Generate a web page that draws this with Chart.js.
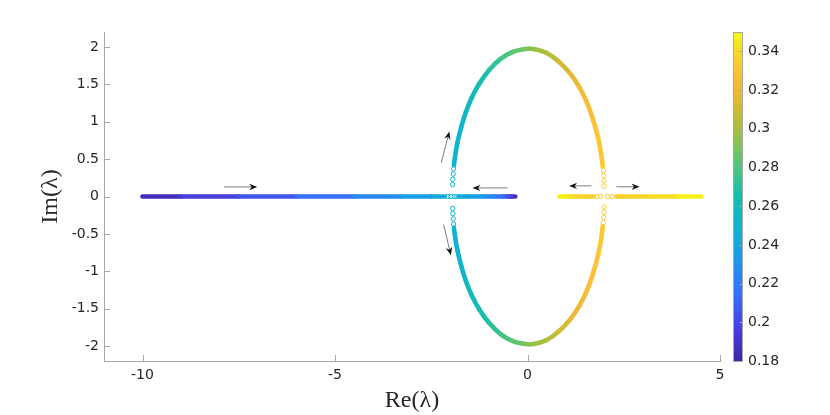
<!DOCTYPE html>
<html>
<head>
<meta charset="utf-8">
<script src="https://cdn.jsdelivr.net/npm/chart.js@4/dist/chart.umd.min.js"></script>
<style>
html,body{margin:0;padding:0;background:#ffffff;}
#wrap{width:830px;height:415px;}
</style>
</head>
<body>
<div id="wrap"><canvas id="c" width="830" height="415"></canvas></div>
<script>
// ---------- axes / tick labels ----------
const xRange = [-11, 5];
const yRange = [-2.2, 2.2];
const paramRange = [0.18, 0.35];
const xTickValues = [-10, -5, 0, 5];
const xTickLabels = ['-10', '-5', '0', '5'];
const yTickValues = [-2, -1.5, -1, -0.5, 0, 0.5, 1, 1.5, 2];
const yTickLabels = ['-2', '-1.5', '-1', '-0.5', '0', '0.5', '1', '1.5', '2'];
const cbTickValues = [0.18, 0.2, 0.22, 0.24, 0.26, 0.28, 0.3, 0.32, 0.34];
const cbTickLabels = ['0.18', '0.2', '0.22', '0.24', '0.26', '0.28', '0.3', '0.32', '0.34'];

// ---------- eigenvalue branches (Re, Im, parameter) ----------
// real branch starting at -10, moving right
const branchARe = [-10, -9, -7.5, -6, -4.5, -3.3, -2.5, -2.15];
const branchAIm = [0, 0, 0, 0, 0, 0, 0, 0];
const branchAP  = [0.180, 0.190, 0.200, 0.210, 0.220, 0.230, 0.240, 0.244];
// real branch starting near -0.3, moving left
const branchBRe = [-0.32, -0.43, -0.52, -0.65, -0.87, -1.18, -1.56, -1.78];
const branchBIm = [0, 0, 0, 0, 0, 0, 0, 0];
const branchBP  = [0.180, 0.190, 0.200, 0.210, 0.220, 0.230, 0.240, 0.244];
// complex pair (upper and lower halves)
const ellipseRe = [-1.91, -1.88, -1.82, -1.72, -1.60, -1.45, -1.25, -1.00, -0.70, -0.40, -0.10, 0.02, 0.20, 0.50, 0.80, 1.10, 1.35, 1.55, 1.72, 1.84, 1.92, 1.955];
const ellipseImUpper = [0.42, 0.54, 0.72, 0.93, 1.13, 1.32, 1.51, 1.69, 1.84, 1.93, 1.97, 1.975, 1.97, 1.92, 1.81, 1.65, 1.46, 1.25, 1.00, 0.77, 0.54, 0.40];
const ellipseImLower = [-0.42, -0.54, -0.72, -0.93, -1.13, -1.32, -1.51, -1.69, -1.84, -1.93, -1.97, -1.975, -1.97, -1.92, -1.81, -1.65, -1.46, -1.25, -1.00, -0.77, -0.54, -0.40];
const ellipseP = [0.2485, 0.2491, 0.2505, 0.2527, 0.2553, 0.2586, 0.2630, 0.2685, 0.2751, 0.2817, 0.2883, 0.2910, 0.2949, 0.3015, 0.3081, 0.3147, 0.3202, 0.3246, 0.3283, 0.3310, 0.3327, 0.3335];
// right real branches after second collision
const branchCRe = [1.72, 1.6, 1.4, 1.2, 1.0, 0.83];
const branchCIm = [0, 0, 0, 0, 0, 0];
const branchCP  = [0.3347, 0.3352, 0.3368, 0.3390, 0.3436, 0.3500];
const branchDRe = [2.31, 2.5, 2.8, 3.25, 3.9, 4.52];
const branchDIm = [0, 0, 0, 0, 0, 0];
const branchDP  = [0.3347, 0.3355, 0.3370, 0.3390, 0.3436, 0.3500];
// sparse samples near the two collision points
const sparseRe = [-2.07, -1.99, -1.90, -1.84, -1.945, -1.94, -1.93, -1.92, -1.945, -1.94, -1.93, -1.92,
                  1.80, 1.90, 2.08, 2.20, 1.99, 1.985, 1.98, 1.97, 1.99, 1.985, 1.98, 1.97];
const sparseIm = [0, 0, 0, 0, 0.16, 0.23, 0.30, 0.37, -0.16, -0.23, -0.30, -0.37,
                  0, 0, 0, 0, 0.14, 0.21, 0.28, 0.35, -0.14, -0.21, -0.28, -0.35];
const sparseP  = [0.2450, 0.2465, 0.2465, 0.2450, 0.2475, 0.2478, 0.2480, 0.2483, 0.2475, 0.2478, 0.2480, 0.2483,
                  0.3345, 0.3345, 0.3345, 0.3345, 0.3340, 0.3338, 0.3337, 0.3336, 0.3340, 0.3338, 0.3337, 0.3336];

// ---------- direction arrows (data units) ----------
const arrowFromRe = [-7.88, -0.52, -2.24, -2.18, 1.66, 2.31];
const arrowFromIm = [0.128, 0.115, 0.45, -0.375, 0.142, 0.13];
const arrowToRe   = [-7.02, -1.43, -2.03, -1.99, 1.08, 2.91];
const arrowToIm   = [0.128, 0.115, 0.87, -0.785, 0.142, 0.13];

// ---------- colour map (parula-like) ----------
const cmapStops = [
  [0.000, [62, 38, 168]],
  [0.100, [71, 64, 225]],
  [0.200, [53, 110, 250]],
  [0.300, [30, 150, 236]],
  [0.400, [15, 178, 213]],
  [0.500, [20, 190, 175]],
  [0.600, [85, 198, 120]],
  [0.700, [165, 191, 62]],
  [0.800, [228, 185, 50]],
  [0.870, [254, 190, 58]],
  [0.950, [245, 222, 36]],
  [1.000, [249, 251, 14]]
];
function cmap(p) {
  let t = (p - paramRange[0]) / (paramRange[1] - paramRange[0]);
  t = Math.max(0, Math.min(1, t));
  for (let i = 1; i < cmapStops.length; i++) {
    if (t <= cmapStops[i][0]) {
      const [t0, c0] = cmapStops[i - 1], [t1, c1] = cmapStops[i];
      const f = (t - t0) / (t1 - t0);
      const c = c0.map((v, k) => Math.round(v + (c1[k] - v) * f));
      return `rgb(${c[0]},${c[1]},${c[2]})`;
    }
  }
  const c = cmapStops[cmapStops.length - 1][1];
  return `rgb(${c[0]},${c[1]},${c[2]})`;
}

const AXIS_GRAY = '#a6a6a6';
const TEXT = '#262626';

function bandDataset(re, im, P, tension) {
  return {
    type: 'scatter',
    data: re.map((x, i) => ({ x: x, y: im[i] })),
    showLine: true,
    tension: tension,
    borderWidth: 4.6,
    borderCapStyle: 'round',
    borderJoinStyle: 'round',
    pointRadius: 0,
    pointHoverRadius: 0,
    borderColor: cmap(P[0]),
    segment: {
      borderColor: ctx => cmap((P[ctx.p0DataIndex] + P[ctx.p1DataIndex]) / 2)
    }
  };
}

const datasets = [
  bandDataset(branchARe, branchAIm, branchAP, 0),
  bandDataset(branchBRe, branchBIm, branchBP, 0),
  bandDataset(ellipseRe, ellipseImUpper, ellipseP, 0.4),
  bandDataset(ellipseRe, ellipseImLower, ellipseP, 0.4),
  bandDataset(branchCRe, branchCIm, branchCP, 0),
  bandDataset(branchDRe, branchDIm, branchDP, 0),
  {
    type: 'scatter',
    data: sparseRe.map((x, i) => ({ x: x, y: sparseIm[i] })),
    showLine: false,
    pointRadius: 2.2,
    pointHoverRadius: 2.2,
    pointBorderWidth: 1,
    pointBackgroundColor: 'rgba(255,255,255,0)',
    pointBorderColor: sparseP.map(p => cmap(p))
  }
];

const decor = {
  id: 'decor',
  afterDatasetsDraw(chart) {
    const { ctx, scales } = chart;
    const sx = scales.x, sy = scales.y;
    ctx.save();
    for (let i = 0; i < arrowFromRe.length; i++) {
      const x0 = sx.getPixelForValue(arrowFromRe[i]), y0 = sy.getPixelForValue(arrowFromIm[i]);
      const x1 = sx.getPixelForValue(arrowToRe[i]), y1 = sy.getPixelForValue(arrowToIm[i]);
      const ang = Math.atan2(y1 - y0, x1 - x0);
      const L = 8, W = 3.2, N = 5.5;
      ctx.strokeStyle = '#6e6e6e';
      ctx.lineWidth = 0.9;
      ctx.beginPath();
      ctx.moveTo(x0, y0);
      ctx.lineTo(x1 - Math.cos(ang) * N, y1 - Math.sin(ang) * N);
      ctx.stroke();
      ctx.fillStyle = '#111111';
      ctx.beginPath();
      ctx.moveTo(x1, y1);
      ctx.lineTo(x1 - Math.cos(ang) * L - Math.sin(ang) * W, y1 - Math.sin(ang) * L + Math.cos(ang) * W);
      ctx.lineTo(x1 - Math.cos(ang) * N, y1 - Math.sin(ang) * N);
      ctx.lineTo(x1 - Math.cos(ang) * L + Math.sin(ang) * W, y1 - Math.sin(ang) * L - Math.cos(ang) * W);
      ctx.closePath();
      ctx.fill();
    }
    ctx.restore();
  },
  afterDraw(chart) {
    const { ctx, chartArea, scales } = chart;
    const sx = scales.x, sy = scales.y, cb = scales.cb;
    ctx.save();
    // inward tick marks
    ctx.strokeStyle = AXIS_GRAY;
    ctx.lineWidth = 1;
    xTickValues.forEach(v => {
      const px = Math.round(sx.getPixelForValue(v)) + 0.5;
      ctx.beginPath();
      ctx.moveTo(px, chartArea.bottom);
      ctx.lineTo(px, chartArea.bottom - 6);
      ctx.stroke();
    });
    yTickValues.forEach(v => {
      const py = Math.round(sy.getPixelForValue(v)) + 0.5;
      ctx.beginPath();
      ctx.moveTo(chartArea.left, py);
      ctx.lineTo(chartArea.left + 6, py);
      ctx.stroke();
    });
    // colour bar
    const bx = cb.left + 13, bw = 9;
    const top = cb.getPixelForValue(paramRange[1]);
    const bot = cb.getPixelForValue(paramRange[0]);
    const g = ctx.createLinearGradient(0, bot, 0, top);
    cmapStops.forEach(s => g.addColorStop(s[0], `rgb(${s[1][0]},${s[1][1]},${s[1][2]})`));
    ctx.fillStyle = g;
    ctx.fillRect(bx, top, bw, bot - top);
    ctx.strokeStyle = AXIS_GRAY;
    ctx.lineWidth = 1;
    ctx.strokeRect(bx + 0.5, Math.round(top) + 0.5, bw, Math.round(bot - top));
    cbTickValues.forEach(v => {
      const py = Math.round(cb.getPixelForValue(v)) + 0.5;
      ctx.beginPath();
      ctx.moveTo(bx + bw + 0.5, py);
      ctx.lineTo(bx + bw - 2.5, py);
      ctx.stroke();
    });
    ctx.restore();
  }
};

function noVerticalPadding(s) { s.paddingTop = 0; s.paddingBottom = 0; }

new Chart(document.getElementById('c'), {
  type: 'scatter',
  data: { datasets: datasets },
  plugins: [decor],
  options: {
    responsive: false,
    animation: false,
    events: [],
    layout: { padding: { top: 32, left: 0, right: 0, bottom: 0 } },
    plugins: { legend: { display: false }, tooltip: { enabled: false } },
    scales: {
      x: {
        type: 'linear',
        position: 'bottom',
        min: xRange[0], max: xRange[1],
        afterFit: s => { s.height = 54; s.paddingLeft = 0; s.paddingRight = 0; },
        afterBuildTicks: s => { s.ticks = xTickValues.map(v => ({ value: v })); },
        grid: { display: false, drawTicks: false },
        border: { display: true, color: AXIS_GRAY, width: 1 },
        ticks: {
          padding: 6,
          color: TEXT,
          font: { family: 'DejaVu Sans', size: 14 },
          maxRotation: 0,
          callback: (v) => xTickLabels[xTickValues.indexOf(v)]
        },
        title: {
          display: true,
          text: 'Re(λ)',
          color: TEXT,
          font: { family: 'Liberation Serif', size: 24 },
          padding: { top: 0, bottom: 0 }
        }
      },
      y: {
        type: 'linear',
        position: 'left',
        min: yRange[0], max: yRange[1],
        afterFit: s => { s.width = 104; noVerticalPadding(s); },
        afterBuildTicks: s => { s.ticks = yTickValues.map(v => ({ value: v })); },
        grid: { display: false, drawTicks: false },
        border: { display: true, color: AXIS_GRAY, width: 1 },
        ticks: {
          padding: 5,
          color: TEXT,
          font: { family: 'DejaVu Sans', size: 14 },
          callback: (v) => yTickLabels[yTickValues.indexOf(v)]
        },
        title: {
          display: true,
          text: 'Im(λ)',
          color: TEXT,
          font: { family: 'Liberation Serif', size: 24 },
          padding: { top: 36, bottom: 0 }
        }
      },
      cb: {
        type: 'linear',
        position: 'right',
        min: paramRange[0], max: paramRange[1],
        afterFit: s => { s.width = 110; noVerticalPadding(s); },
        afterBuildTicks: s => { s.ticks = cbTickValues.map(v => ({ value: v })); },
        grid: { display: false, drawTicks: false },
        border: { display: false },
        ticks: {
          padding: 28,
          color: TEXT,
          font: { family: 'DejaVu Sans', size: 14 },
          callback: (v) => cbTickLabels[cbTickValues.findIndex(t => Math.abs(t - v) < 1e-9)]
        }
      }
    }
  }
});
</script>
</body>
</html>
